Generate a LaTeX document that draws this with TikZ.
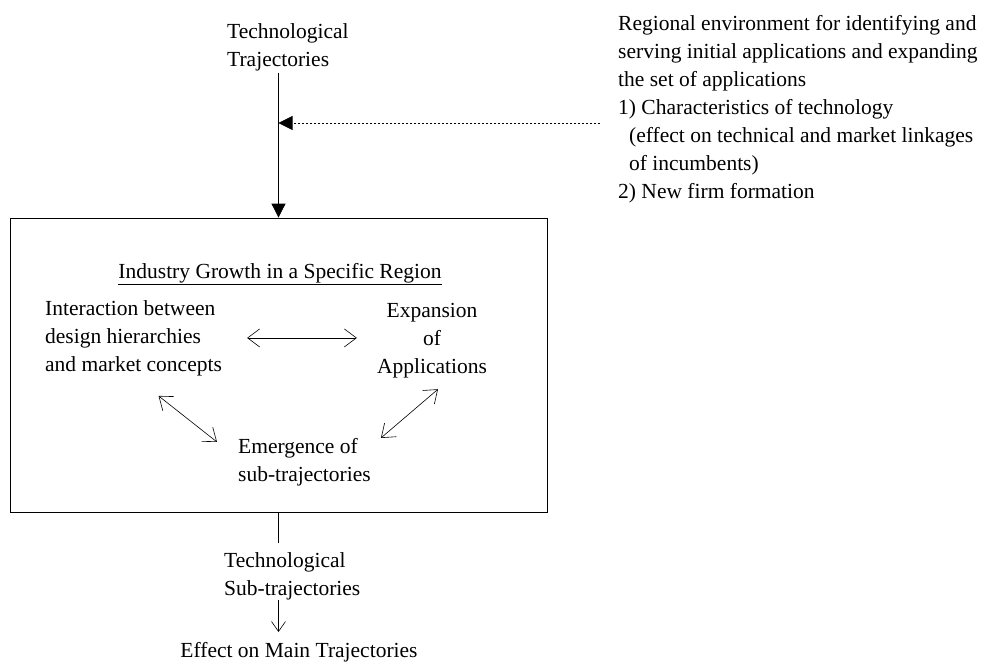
\documentclass[tikz,border=0pt]{standalone}
\usepackage{fontspec}
\setmainfont{Liberation Serif}
\usetikzlibrary{arrows.meta}

\begin{document}
\begin{tikzpicture}[
  x=1pt, y=-1pt,
  txt/.style={inner sep=0pt, font=\fontsize{21.5}{28}\selectfont, align=#1},
  txt/.default=left,
  frame/.style={draw, line width=0.8pt, inner sep=0pt, minimum width=537pt, minimum height=294pt},
  feed/.style={line width=0.8pt, -{Triangle[length=14pt,width=14pt]}},
  env line/.style={feed, line width=0.7pt, dash pattern=on 2.5pt off 1.5pt},
  link/.style={line width=0.6pt, {Straight Barb[length=12pt,width=18pt]}-{Straight Barb[length=12pt,width=18pt]}},
  down/.style={line width=0.6pt, -{Straight Barb[length=10pt,width=14pt]}}
  ]
\def\subind{\hspace*{11pt}}
\useasboundingbox (0,0) rectangle (985,666);
\node[frame] (box) at (278.5,365) {};                                  % region
\node[txt, anchor=north west] (traj) at (227,23) {Technological\\Trajectories};
\node[txt, anchor=north west] (env) at (618,15) {Regional environment for identifying and\\serving initial applications and expanding\\the set of applications\\1) Characteristics of technology\\\subind(effect on technical and market linkages\\\subind of incumbents)\\2) New firm formation};
\coordinate (envtail) at (600,123);                                    % end of dashed line
\node[txt=center, anchor=north] (title) at (280,263) {\underline{Industry Growth in a Specific Region}};
\node[txt, anchor=north west] (inter) at (45,300) {Interaction between\\design hierarchies\\and market concepts};
\node[txt=center, anchor=north] (expand) at (432,303) {Expansion\\of\\Applications};
\node[txt, anchor=north west] (emerge) at (238,438) {Emergence of\\sub-trajectories};
\node[txt, anchor=north west] (subtraj) at (224,552) {Technological\\Sub-trajectories};
\node[txt=center, anchor=north] (effect) at (299,642) {Effect on Main Trajectories};
\draw[feed, shorten <=2pt] (box.north |- traj.south) -- (box.north);
\draw[env line] (envtail) -- (envtail -| box.north);
\draw[link, shorten <=25pt, shorten >=20pt] (inter.east) -- (inter.east -| expand.west);
\draw[link] ([shift={(25,20)}]inter.south) -- ([shift={(-21,4)}]emerge.north west);
\draw[link] ([shift={(6,11)}]expand.south) -- ([shift={(10,0)}]emerge.north east);
\draw[line width=0.6pt, shorten >=9pt] (box.south) -- (box.south |- subtraj.north);
\draw[down, shorten >=10pt] (box.south |- subtraj.south) -- (box.south |- effect.north);
\end{tikzpicture}
\end{document}
